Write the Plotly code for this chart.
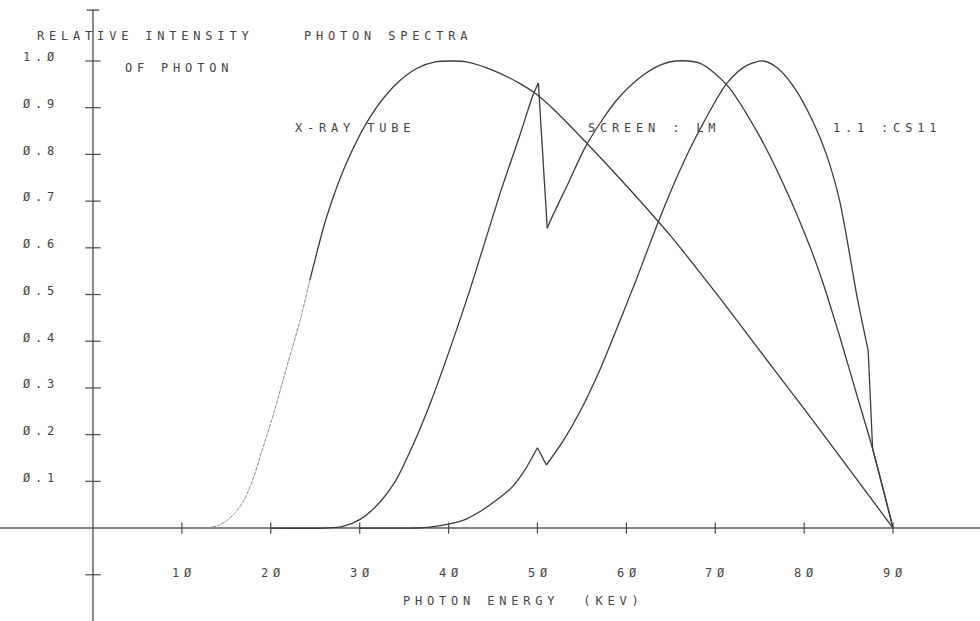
import plotly.graph_objects as go

# ---------------- data ----------------
tube_E = [10, 12, 13, 14, 15, 16, 17, 18, 19, 20.1, 21.8, 23.3, 24.4,
          26.3, 28.5, 31.2, 33.8, 36.4, 38.5, 40.5, 42, 45, 48, 50,
          52, 55.5, 60, 65, 70, 75, 80, 85, 90]
tube_I = [0, 0, 0.001, 0.005, 0.015, 0.033, 0.06, 0.105, 0.165, 0.231, 0.345, 0.445, 0.531,
          0.667, 0.781, 0.881, 0.945, 0.984, 0.998, 1.0, 0.998, 0.98, 0.952, 0.927,
          0.893, 0.825, 0.733, 0.625, 0.505, 0.38, 0.255, 0.128, 0]

lm_E = [20, 26, 28, 30, 32, 34, 36, 38, 40, 42.4, 45.8, 48, 49.5,
        50.1, 51.1, 51.4, 53.5, 55.5, 58.9, 61.9, 64, 65.6, 68.3, 71.3, 74.6,
        77.7, 80.7, 82.2, 84, 86, 87.7, 90]
lm_I = [0, 0, 0.003, 0.018, 0.05, 0.1, 0.178, 0.27, 0.375, 0.51, 0.717, 0.84, 0.927,
        0.953, 0.642, 0.656, 0.74, 0.82, 0.916, 0.97, 0.993, 1.0, 0.995, 0.949, 0.852,
        0.735, 0.6, 0.52, 0.41, 0.28, 0.17, 0]

csi_E = [30, 36, 37.9, 41.7, 43.5, 45.4, 47, 48.5, 50, 51, 53, 54.8, 57, 59.3, 60.2,
         61.1, 63.6, 66, 67.9, 71.3, 73.5, 75.4, 77, 79, 81, 82.5, 84, 86,
         87.2, 87.7, 90]
csi_I = [0, 0, 0.002, 0.017, 0.035, 0.06, 0.085, 0.122, 0.172, 0.135, 0.19, 0.25, 0.338,
         0.445, 0.488, 0.531, 0.656, 0.765, 0.84, 0.952, 0.99, 1.0, 0.985, 0.94, 0.87,
         0.8, 0.7, 0.49, 0.38, 0.17, 0]

ytick_vals = [1.0, 0.9, 0.8, 0.7, 0.6, 0.5, 0.4, 0.3, 0.2, 0.1]
ytick_text = ["1.Ø", "Ø.9", "Ø.8", "Ø.7", "Ø.6", "Ø.5", "Ø.4", "Ø.3", "Ø.2", "Ø.1"]
ytick_marks = [1.0, 0.9, 0.8, 0.7, 0.6, 0.5, 0.4, 0.3, 0.2, 0.1, -0.1]
xtick_vals = [10, 20, 30, 40, 50, 60, 70, 80, 90]
xtick_text = ["1Ø", "2Ø", "3Ø", "4Ø", "5Ø", "6Ø", "7Ø", "8Ø", "9Ø"]

# ---------------- layout geometry ----------------
X_RANGE = [-10.46, 99.78]
Y_RANGE = [-0.199, 1.1306]
INK = "#3c3c3c"
TEXT = "#444444"
FONT = "DejaVu Sans Mono"

fig = go.Figure()


def seg(xs, ys, a, b, shape="spline", color=INK, width=1.3, dash="solid"):
    """Draw points a..b (inclusive) of a curve as one piece."""
    fig.add_trace(go.Scatter(x=xs[a:b + 1], y=ys[a:b + 1], mode="lines",
                             line=dict(color=color, width=width, dash=dash,
                                       shape=shape, smoothing=0.8),
                             hoverinfo="skip", showlegend=False))


# x-ray tube: lower part lighter / broken, as on the plotter sheet
k = tube_E.index(24.4)
seg(tube_E, tube_I, 0, k, color="#8c8c8c", width=1, dash="4px,1px")
seg(tube_E, tube_I, k, len(tube_E) - 1)

# screen LM with its K-edge
a = lm_E.index(50.1)
b = lm_E.index(51.1)
seg(lm_E, lm_I, 0, a)
seg(lm_E, lm_I, a, b, shape="linear")
seg(lm_E, lm_I, b, len(lm_E) - 1)

# CsI screen with its K-edge and steep tail
a = csi_E.index(50)
b = csi_E.index(51)
c = csi_E.index(87.2)
seg(csi_E, csi_I, 0, a)
seg(csi_E, csi_I, a, b, shape="linear")
seg(csi_E, csi_I, b, c)
seg(csi_E, csi_I, c, len(csi_E) - 1, shape="linear")

# axes lines
fig.add_shape(type="line", x0=X_RANGE[0], x1=X_RANGE[1], y0=0, y1=0,
              line=dict(color="#5a5a5a", width=1.6), layer="below")
fig.add_shape(type="line", x0=0, x1=0, y0=Y_RANGE[0], y1=1.109,
              line=dict(color="#4a4a4a", width=1.3), layer="below")
fig.add_shape(type="line", x0=-0.7, x1=0.7, y0=1.109, y1=1.109,
              line=dict(color="#4a4a4a", width=1.3), layer="below")

# tick marks
fig.add_trace(go.Scatter(x=[0] * len(ytick_marks), y=ytick_marks, mode="markers",
                         marker=dict(symbol="line-ew", size=11,
                                     line=dict(color="#4a4a4a", width=1.2)),
                         hoverinfo="skip", showlegend=False))
fig.add_trace(go.Scatter(x=xtick_vals, y=[0] * len(xtick_vals), mode="markers",
                         marker=dict(symbol="line-ns", size=8,
                                     line=dict(color="#4a4a4a", width=1.2)),
                         hoverinfo="skip", showlegend=False))

LS = 4.8  # letter spacing to imitate plotter lettering


def label(text, x, y, size=12):
    fig.add_annotation(x=x, y=y, xref="x", yref="y", showarrow=False,
                       text=f'<span style="letter-spacing:{LS}px">{text}</span>',
                       font=dict(family=FONT, size=size, color=TEXT),
                       xanchor="center", yanchor="middle")


def px2x(px):
    return (px - 93) / 8.89


def py2y(py):
    return (528 - py) / 467


for v, t in zip(ytick_vals, ytick_text):
    label(t, px2x(41), v + 0.008)
for v, t in zip(xtick_vals, xtick_text):
    label(t, v + 0.25, py2y(573))

label("RELATIVE INTENSITY", px2x(145), py2y(36))
label("OF PHOTON", px2x(179), py2y(67.5))
label("PHOTON SPECTRA", px2x(388), py2y(36))
label("X-RAY TUBE", px2x(355), py2y(128))
label("SCREEN : LM", px2x(654), py2y(128))
label("1.1 :CS11", px2x(887), py2y(128))
label("PHOTON ENERGY  (KEV)", px2x(524), py2y(601))

fig.update_layout(
    width=980, height=621,
    margin=dict(l=0, r=0, t=0, b=0),
    paper_bgcolor="white", plot_bgcolor="white",
    xaxis=dict(range=X_RANGE, visible=False, fixedrange=True),
    yaxis=dict(range=Y_RANGE, visible=False, fixedrange=True),
    showlegend=False,
)

fig.write_html("out.html")
